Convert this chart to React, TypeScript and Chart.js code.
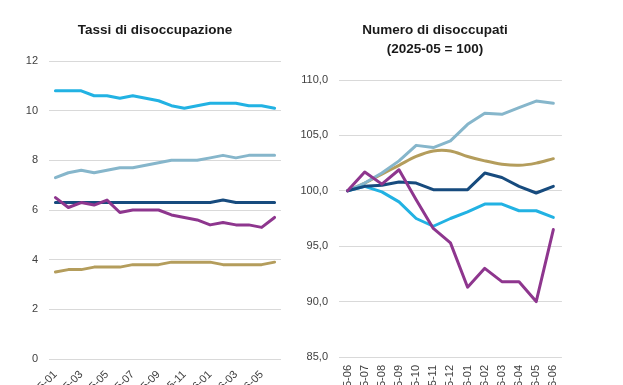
import React, { useEffect, useRef } from 'react';
import { Chart, registerables } from 'chart.js';

Chart.register(...registerables);

// ---- Data ----
const rateMonths = [
  '2025-01', '2025-02', '2025-03', '2025-04', '2025-05', '2025-06',
  '2025-07', '2025-08', '2025-09', '2025-10', '2025-11', '2025-12',
  '2026-01', '2026-02', '2026-03', '2026-04', '2026-05', '2026-06',
];
const rateSpagna = [10.8, 10.8, 10.8, 10.6, 10.6, 10.5, 10.6, 10.5, 10.4, 10.2, 10.1, 10.2, 10.3, 10.3, 10.3, 10.2, 10.2, 10.1];
const rateFrancia = [7.3, 7.5, 7.6, 7.5, 7.6, 7.7, 7.7, 7.8, 7.9, 8.0, 8.0, 8.0, 8.1, 8.2, 8.1, 8.2, 8.2, 8.2];
const rateAreaEuro = [6.3, 6.3, 6.3, 6.3, 6.3, 6.3, 6.3, 6.3, 6.3, 6.3, 6.3, 6.3, 6.3, 6.4, 6.3, 6.3, 6.3, 6.3];
const rateItalia = [6.5, 6.1, 6.3, 6.2, 6.4, 5.9, 6.0, 6.0, 6.0, 5.8, 5.7, 5.6, 5.4, 5.5, 5.4, 5.4, 5.3, 5.7];
const rateGermania = [3.5, 3.6, 3.6, 3.7, 3.7, 3.7, 3.8, 3.8, 3.8, 3.9, 3.9, 3.9, 3.9, 3.8, 3.8, 3.8, 3.8, 3.9];

const indexMonths = [
  '2025-06', '2025-07', '2025-08', '2025-09', '2025-10', '2025-11', '2025-12',
  '2026-01', '2026-02', '2026-03', '2026-04', '2026-05', '2026-06',
];
const idxFrancia = [100, 100.7, 101.6, 102.7, 104.1, 103.9, 104.5, 106.0, 107.0, 106.9, 107.5, 108.1, 107.9];
const idxGermania = [100, 100.7, 101.5, 102.3, 103.1, 103.6, 103.6, 103.1, 102.7, 102.4, 102.3, 102.5, 102.9];
const idxAreaEuro = [100, 100.4, 100.5, 100.8, 100.7, 100.1, 100.1, 100.1, 101.6, 101.2, 100.4, 99.8, 100.4];
const idxSpagna = [100, 100.4, 99.9, 99.0, 97.5, 96.8, 97.5, 98.1, 98.8, 98.8, 98.2, 98.2, 97.6];
const idxItalia = [100, 101.7, 100.6, 101.9, 99.2, 96.6, 95.3, 91.3, 93.0, 91.8, 91.8, 90.0, 96.5];

const rateTicks = { min: 0, max: 12, step: 2 };
const indexTicks = { min: 85, max: 110, step: 5 };

// ---- Styles ----
const COLORS = {
  spagna: '#22B2E3',
  francia: '#86B6CB',
  areaEuro: '#174B7E',
  italia: '#8E368E',
  germania: '#B49D5C',
};
const TITLE_FONT = "'Liberation Sans', Arial, sans-serif";
const TICK_FONT = "'Liberation Sans', Arial, sans-serif";
const TICK_COLOR = '#404040';
const GRID_COLOR = '#D9D9D9';
const TITLE_SIZE = 13.5;
const TITLE_LH = 19.4;

// Moves the title block so that it is centred on a given x (canvas px)
const titleCenterPlugin = {
  id: 'titleCenter',
  afterLayout(chart: any, _args: any, opts: any) {
    const t = chart.titleBlock;
    if (!t || !opts || opts.center == null) return;
    const half = (t.right - t.left) / 2;
    t.left = opts.center - half;
    t.right = opts.center + half;
  },
};

function ds(label: string, data: number[], color: string, tension = 0) {
  return {
    label,
    data,
    borderColor: color,
    backgroundColor: color,
    borderWidth: 3,
    pointRadius: 0,
    tension,
    borderJoinStyle: 'round' as const,
    borderCapStyle: 'round' as const,
  };
}

function makeOptions(opts: {
  title: string | string[]; titleCenter: number;
  yMin: number; yMax: number; yStep: number;
  yWidth: number; padRight: number; top: number; axisBottom: number; height: number;
  rotation: number; xPad: number; skipOdd: boolean; fmt: (v: number) => string;
}) {
  const lines = Array.isArray(opts.title) ? opts.title.length : 1;
  const titleTop = 30 - TITLE_LH / 2;
  const titleBottom = opts.top - titleTop - TITLE_LH * lines;
  return {
    responsive: false,
    animation: false as const,
    layout: { padding: { left: 0, right: opts.padRight, top: 0, bottom: 0 } },
    plugins: {
      legend: { display: false },
      tooltip: { enabled: false },
      titleCenter: { center: opts.titleCenter },
      title: {
        display: true,
        text: opts.title,
        color: '#1a1a1a',
        font: { family: TITLE_FONT, size: TITLE_SIZE, weight: 'bold' as const, lineHeight: `${TITLE_LH}px` },
        padding: { top: titleTop, bottom: titleBottom },
      },
    },
    scales: {
      x: {
        offset: true,
        grid: { display: false, drawTicks: false },
        border: { display: false },
        ticks: {
          autoSkip: false,
          minRotation: opts.rotation,
          maxRotation: opts.rotation,
          padding: opts.xPad,
          color: TICK_COLOR,
          font: { family: TICK_FONT, size: 11 },
          callback: function (this: any, value: any, index: number) {
            if (opts.skipOdd && index % 2 === 1) return null;
            return this.getLabelForValue(value);
          },
        },
        afterFit: (scale: any) => {
          scale.height = opts.height - opts.axisBottom;
        },
      },
      y: {
        min: opts.yMin,
        max: opts.yMax,
        grid: { color: GRID_COLOR, lineWidth: 1, drawTicks: false },
        border: { display: false },
        ticks: {
          stepSize: opts.yStep,
          padding: 11,
          color: TICK_COLOR,
          font: { family: TICK_FONT, size: 11 },
          callback: (v: any) => opts.fmt(Number(v)),
        },
        afterFit: (scale: any) => {
          scale.width = opts.yWidth;
        },
      },
    },
  };
}

function LineChart(props: {
  left: number; width: number; height: number;
  labels: string[]; datasets: any[]; options: any;
}) {
  const ref = useRef<HTMLCanvasElement | null>(null);
  useEffect(() => {
    if (!ref.current) return;
    const chart = new Chart(ref.current, {
      type: 'line',
      data: { labels: props.labels, datasets: props.datasets },
      options: props.options,
      plugins: [titleCenterPlugin],
    });
    return () => chart.destroy();
  }, []);
  return (
    <canvas
      ref={ref}
      width={props.width}
      height={props.height}
      style={{ position: 'absolute', left: props.left, top: 0, width: props.width, height: props.height }}
    />
  );
}

export default function App() {
  const H = 440;
  const leftDatasets = [
    ds('Italia', rateItalia, COLORS.italia),
    ds('Area euro', rateAreaEuro, COLORS.areaEuro),
    ds('Francia', rateFrancia, COLORS.francia),
    ds('Spagna', rateSpagna, COLORS.spagna),
    ds('Germania', rateGermania, COLORS.germania),
  ];
  const rightDatasets = [
    ds('Italia', idxItalia, COLORS.italia),
    ds('Area euro', idxAreaEuro, COLORS.areaEuro),
    ds('Spagna', idxSpagna, COLORS.spagna),
    ds('Francia', idxFrancia, COLORS.francia),
    ds('Germania', idxGermania, COLORS.germania, 0.35),
  ];
  // left canvas: x 0..300, title centred at 155, plot 49..281
  const leftOptions = makeOptions({
    title: 'Tassi di disoccupazione', titleCenter: 155,
    yMin: rateTicks.min, yMax: rateTicks.max, yStep: rateTicks.step,
    yWidth: 49, padRight: 19, top: 61, axisBottom: 359, height: H,
    rotation: 45, xPad: 9, skipOdd: true, fmt: (v) => String(v),
  });
  // right canvas: x 295..575, title centred at 435, plot 339..563
  const rightOptions = makeOptions({
    title: ['Numero di disoccupati', '(2025-05 = 100)'], titleCenter: 140,
    yMin: indexTicks.min, yMax: indexTicks.max, yStep: indexTicks.step,
    yWidth: 44, padRight: 12, top: 80, axisBottom: 357, height: H,
    rotation: 90, xPad: 8, skipOdd: false, fmt: (v) => v.toFixed(1).replace('.', ','),
  });
  return (
    <div style={{ position: 'fixed', left: 0, top: 0, width: 623, height: 385, overflow: 'hidden', background: '#fff' }}>
      <LineChart left={0} width={300} height={H} labels={rateMonths} datasets={leftDatasets} options={leftOptions} />
      <LineChart left={295} width={280} height={H} labels={indexMonths} datasets={rightDatasets} options={rightOptions} />
    </div>
  );
}
